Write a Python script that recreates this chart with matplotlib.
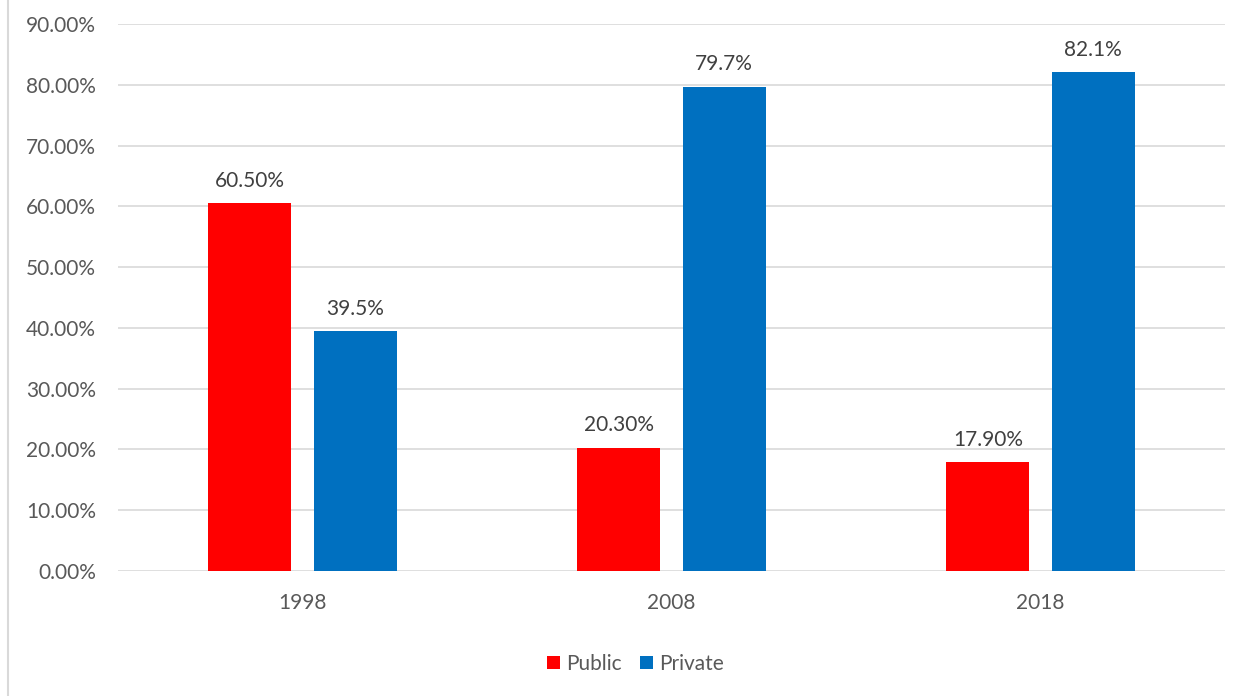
import matplotlib

matplotlib.use("Agg")
import matplotlib.pyplot as plt  # noqa: E402
import numpy as np  # noqa: E402
from matplotlib.lines import Line2D  # noqa: E402

years = ["1998", "2008", "2018"]
public = [60.5, 20.3, 17.9]
private = [39.5, 79.7, 82.1]
public_labels = ["60.50%", "20.30%", "17.90%"]
private_labels = ["39.5%", "79.7%", "82.1%"]
yticks = [0, 10, 20, 30, 40, 50, 60, 70, 80, 90]

plt.rcParams["font.family"] = ["Lato", "DejaVu Sans"]
txt = "#595959"
fs = 15

fig = plt.figure(figsize=(12.44, 6.96), dpi=100)
ax = fig.add_axes([0.0949, 0.1796, 0.8898, 0.7859])

x = np.arange(len(years))
w = 0.225
off = 0.1425
b1 = ax.bar(x - off, public, w, color="#FF0000", label="Public", zorder=3)
b2 = ax.bar(x + off, private, w, color="#0070C0", label="Private", zorder=3)

for bars, labs in ((b1, public_labels), (b2, private_labels)):
    for r, lab in zip(bars, labs):
        ax.text(r.get_x() + r.get_width() / 2, r.get_height() + 2.0, lab,
                ha="center", va="bottom", fontsize=fs, color="#404040")

ax.set_xlim(-0.5, 2.5)
ax.set_ylim(0, 90)
ax.set_yticks(yticks)
ax.set_yticklabels([f"{v:.2f}%" for v in yticks])
ax.set_xticks(x)
ax.set_xticklabels(years)
ax.tick_params(axis="both", length=0, labelsize=fs, colors=txt)
ax.tick_params(axis="y", pad=16)
ax.tick_params(axis="x", pad=16)
ax.grid(axis="y", color="#D9D9D9", lw=1.2, zorder=0)
for s in ax.spines.values():
    s.set_visible(False)

fig.legend(loc="center", bbox_to_anchor=(0.511, 0.046), ncol=2, frameon=False,
           fontsize=fs, labelcolor=txt, handlelength=0.6, handleheight=0.6,
           handletextpad=0.3, columnspacing=0.9)

fig.add_artist(Line2D([0.0065, 0.0065], [0, 1], color="#D9D9D9", lw=1.5,
                      transform=fig.transFigure))

fig.savefig("out.png", dpi=100)
